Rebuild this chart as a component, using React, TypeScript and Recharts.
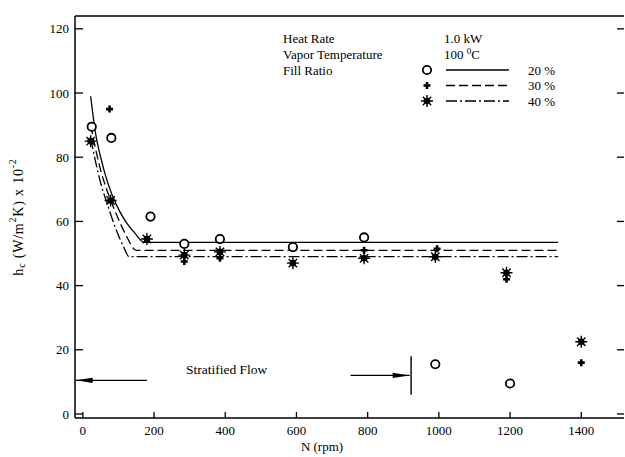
import React from 'react';
import {
  ComposedChart, Line, Scatter, XAxis, YAxis, ReferenceLine, ReferenceDot, Legend, Label,
} from 'recharts';

const rpmTicks = [0, 200, 400, 600, 800, 1000, 1200, 1400];
const hcTicks = [0, 20, 40, 60, 80, 100, 120];

// measured h_c (x10^2 W/m2K) for each fill ratio
const rpm20 = [25, 80, 190, 285, 385, 590, 790, 990, 1200];
const hc20 = [89.5, 86, 61.5, 53, 54.5, 52, 55, 15.5, 9.5];
const rpm30 = [75, 285, 385, 790, 995, 1190, 1400];
const hc30 = [95, 47.5, 48.5, 51, 51.5, 42, 16];
const rpm40 = [22, 78, 180, 285, 385, 590, 790, 990, 1190, 1400];
const hc40 = [85, 66.5, 54.5, 49.5, 50.5, 47, 48.5, 49, 44, 22.5];

// correlation curves
const fitRpm20 = [22, 35, 50, 70, 95, 120, 145, 172, 1335];
const fitHc20 = [99, 88, 80, 72, 65, 60, 56.5, 53.5, 53.5];
const fitRpm30 = [22, 35, 50, 70, 95, 120, 150, 1335];
const fitHc30 = [90, 83, 76, 69, 62, 56, 51, 51];
const fitRpm40 = [22, 35, 50, 70, 95, 115, 130, 1335];
const fitHc40 = [86, 79, 72, 65, 57, 52, 49, 49];

// stratified flow region markers
const flowFromRpm = [180, 752];
const flowTipRpm = [-20, 918];
const flowHc = [10.5, 12];
const flowDir = [-1, 1];
const flowLimitRpm = 922;
const flowLimitHc = [6, 18];

const zip = (xs: number[], ys: number[]) => xs.map((x, i) => ({ rpm: x, hc: ys[i] }));

const pts20 = zip(rpm20, hc20);
const pts30 = zip(rpm30, hc30);
const pts40 = zip(rpm40, hc40);
const fit20 = zip(fitRpm20, fitHc20);
const fit30 = zip(fitRpm30, fitHc30);
const fit40 = zip(fitRpm40, fitHc40);
const arrowTips = flowTipRpm.map((x, i) => ({ rpm: x, hc: flowHc[i], dir: flowDir[i] }));

const FONT = '"Liberation Serif", "Times New Roman", serif';
const PLOT_W = 549;

const Ring = (p: any) => (
  <circle cx={p.cx} cy={p.cy} r={4.2} fill="#fff" stroke="#000" strokeWidth={1.8} />
);

const Cross = (p: any) => (
  <path d={`M${p.cx - 3.5},${p.cy}h7M${p.cx},${p.cy - 3.5}v7`} stroke="#000" strokeWidth={2.6} />
);

const Star = (p: any) => {
  const { cx, cy } = p;
  const r = 6;
  const d = r * 0.7;
  return (
    <g stroke="#000" strokeWidth={1.4}>
      <path d={`M${cx - r},${cy}h${2 * r}M${cx},${cy - r}v${2 * r}M${cx - d},${cy - d}l${2 * d},${2 * d}M${cx - d},${cy + d}l${2 * d},${-2 * d}`} />
      <circle cx={cx} cy={cy} r={2.6} fill="#000" />
    </g>
  );
};

const ArrowHead = (p: any) => {
  const s = p.payload.dir;
  return (
    <polygon
      points={`${p.cx},${p.cy} ${p.cx - s * 17},${p.cy - 2.6} ${p.cx - s * 17},${p.cy + 2.6}`}
      fill="#000"
    />
  );
};

const YTick = (p: any) => {
  const ax = p.x + 6;
  return (
    <g>
      <line x1={ax} x2={ax + 8} y1={p.y} y2={p.y} stroke="#000" strokeWidth={1.3} />
      <line x1={ax + PLOT_W - 7} x2={ax + PLOT_W} y1={p.y} y2={p.y} stroke="#000" strokeWidth={1.3} />
      <text x={p.x} y={p.y} dy="0.35em" textAnchor="end" fontFamily={FONT} fontSize={13} fill="#000">
        {p.payload.value}
      </text>
    </g>
  );
};

const XTick = (p: any) => (
  <g>
    <line x1={p.x} x2={p.x} y1={p.y - 6} y2={p.y} stroke="#000" strokeWidth={1.3} />
    <text x={p.x} y={p.y + 17} textAnchor="middle" fontFamily={FONT} fontSize={13} fill="#000">
      {p.payload.value}
    </text>
  </g>
);

const YTitle = (p: any) => {
  const vb = p.viewBox || { x: 15, y: 16, width: 60, height: 402 };
  const cx = vb.x + 3;
  const cy = vb.y + vb.height / 2;
  return (
    <text
      x={cx}
      y={cy}
      transform={`rotate(-90 ${cx} ${cy})`}
      textAnchor="middle"
      dominantBaseline="central"
      fontFamily={FONT}
      fontSize={14}
      letterSpacing={0.8}
      fill="#000"
    >
      h<tspan dy={3} fontSize={10}>c</tspan>
      <tspan dy={-3}> (W/m</tspan>
      <tspan dy={-6} fontSize={10}>2</tspan>
      <tspan dy={6}>K) x 10</tspan>
      <tspan dy={-6} fontSize={10}>-2</tspan>
    </text>
  );
};

const XTitle = (p: any) => {
  const vb = p.viewBox || { x: 75, y: 418, width: 549, height: 39 };
  return (
    <text x={vb.x + 247} y={vb.y + 33} textAnchor="middle" fontFamily={FONT} fontSize={13} fill="#000">
      N (rpm)
    </text>
  );
};

const legendRows = [
  { label: '20 %', mark: 'ring', dash: undefined },
  { label: '30 %', mark: 'cross', dash: '9 4' },
  { label: '40 %', mark: 'star', dash: '11 3 2 3' },
];

const LegendBox = () => (
  <svg width={625} height={120} style={{ pointerEvents: 'none' }}>
    <g fontFamily={FONT} fontSize={13} fill="#000">
      <text x={283} y={43}>Heat Rate</text>
      <text x={283} y={59}>Vapor Temperature</text>
      <text x={283} y={75}>Fill Ratio</text>
      <text x={444} y={43}>1.0 kW</text>
      <text x={444} y={59}>
        100 <tspan dy={-5} fontSize={9}>0</tspan>
        <tspan dy={5}>C</tspan>
      </text>
    </g>
    {legendRows.map((r, i) => {
      const y = 70 + i * 15.5;
      const cx = 427;
      return (
        <g key={r.label}>
          {r.mark === 'ring' && <Ring cx={cx} cy={y} />}
          {r.mark === 'cross' && <Cross cx={cx} cy={y} />}
          {r.mark === 'star' && <Star cx={cx} cy={y} />}
          <line x1={446} x2={509} y1={y} y2={y} stroke="#000" strokeWidth={1.3} strokeDasharray={r.dash} />
          <text x={528} y={y + 4.5} fontFamily={FONT} fontSize={13} fill="#000">{r.label}</text>
        </g>
      );
    })}
  </svg>
);

export default function App() {
  return (
    <div style={{ position: 'absolute', left: 0, top: 0, width: 625, height: 457, overflow: 'hidden', background: '#fff' }}>
      <ComposedChart width={625} height={457} margin={{ top: 16, right: 1, bottom: 0, left: 15 }}>
        <XAxis
          type="number"
          dataKey="rpm"
          domain={[-22, 1520]}
          ticks={rpmTicks}
          interval={0}
          height={39}
          allowDataOverflow
          axisLine={{ stroke: '#000', strokeWidth: 1.5 }}
          tickLine={false}
          tickSize={0}
          tickMargin={0}
          tick={XTick}
        >
          <Label content={XTitle} />
        </XAxis>
        <YAxis
          type="number"
          dataKey="hc"
          domain={[-1.25, 124]}
          ticks={hcTicks}
          interval={0}
          width={60}
          allowDataOverflow
          axisLine={{ stroke: '#000', strokeWidth: 1.5 }}
          tickLine={false}
          tickSize={0}
          tickMargin={6}
          tick={YTick}
        >
          <Label content={YTitle} />
        </YAxis>
        <ReferenceLine y={124} stroke="#000" strokeWidth={1.5} />

        <Line data={fit20} dataKey="hc" type="monotone" dot={false} stroke="#000" strokeWidth={1.3} isAnimationActive={false} />
        <Line data={fit30} dataKey="hc" type="monotone" dot={false} stroke="#000" strokeWidth={1.3} strokeDasharray="9 4" isAnimationActive={false} />
        <Line data={fit40} dataKey="hc" type="monotone" dot={false} stroke="#000" strokeWidth={1.3} strokeDasharray="11 3 2 3" isAnimationActive={false} />

        {flowFromRpm.map((x, i) => (
          <ReferenceLine
            key={i}
            segment={[{ x, y: flowHc[i] }, { x: flowTipRpm[i], y: flowHc[i] }]}
            stroke="#000"
            strokeWidth={1.2}
          />
        ))}
        <ReferenceLine
          segment={[{ x: flowLimitRpm, y: flowLimitHc[0] }, { x: flowLimitRpm, y: flowLimitHc[1] }]}
          stroke="#000"
          strokeWidth={1.4}
        />
        <Scatter data={arrowTips} shape={ArrowHead} isAnimationActive={false} />
        <ReferenceDot
          x={404}
          y={14}
          r={0}
          fill="none"
          stroke="none"
          label={{ value: 'Stratified Flow', position: 'center', fill: '#000', fontSize: 13.5, fontFamily: FONT }}
        />

        <Scatter data={pts20} shape={Ring} isAnimationActive={false} />
        <Scatter data={pts30} shape={Cross} isAnimationActive={false} />
        <Scatter data={pts40} shape={Star} isAnimationActive={false} />

        <Legend
          layout="horizontal"
          verticalAlign="middle"
          align="center"
          content={LegendBox}
          wrapperStyle={{ position: 'absolute', left: 0, top: 0, width: 625, height: 120 }}
        />
      </ComposedChart>
    </div>
  );
}
